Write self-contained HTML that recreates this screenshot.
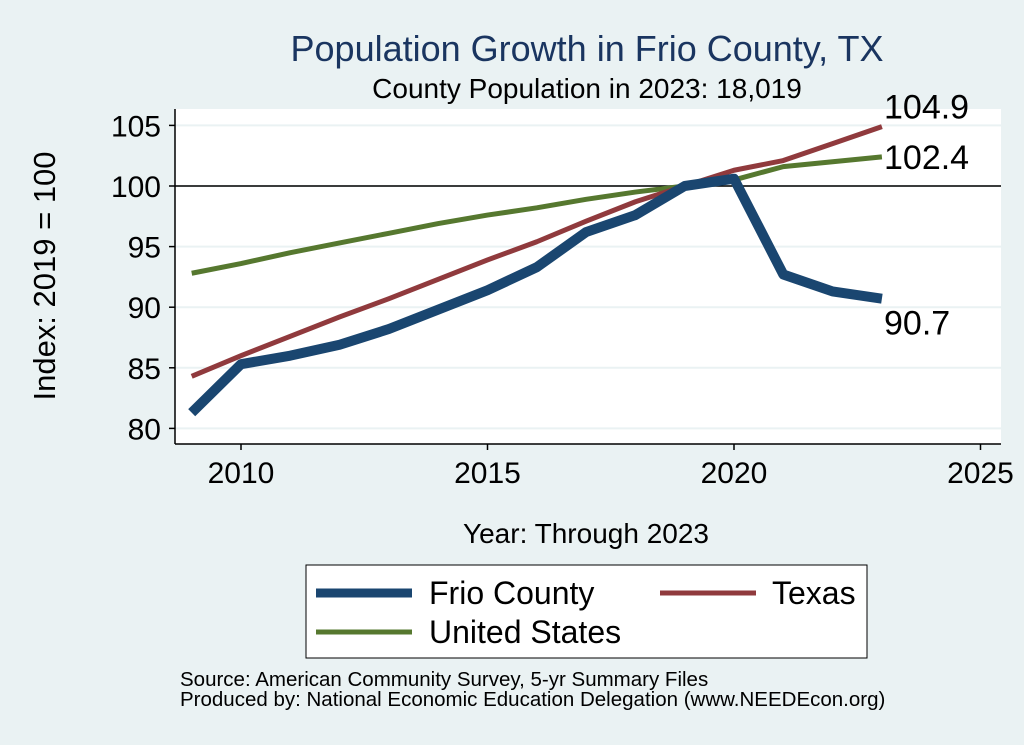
<!DOCTYPE html>
<html><head><meta charset="utf-8"><style>
body{margin:0;background:#eaf2f3;}
svg{display:block;font-family:"Liberation Sans",Arial,sans-serif;}
</style></head><body>
<svg id="c" width="1024" height="745">
<rect x="0" y="0" width="1024" height="745" fill="#eaf2f3"/>
<rect x="175" y="109" width="826" height="335" fill="#fff"/>
<text x="587" y="61" text-anchor="middle" font-size="36" fill="#1a3560">Population Growth in Frio County, TX</text>
<text x="587" y="98" text-anchor="middle" font-size="28" fill="#000">County Population in 2023: 18,019</text>
<g id="grid"></g><g id="axes"></g><g id="lines"></g>
<text x="55" y="276" text-anchor="middle" font-size="31" transform="rotate(-90 55 276)">Index: 2019 = 100</text>
<text x="586" y="543" text-anchor="middle" font-size="28">Year: Through 2023</text>
<g>
<rect x="306" y="565" width="561" height="93" fill="#fff" stroke="#000" stroke-width="1"/>
<line x1="316" y1="593" x2="412" y2="593" stroke="#1a4670" stroke-width="9"/>
<text x="429" y="604" font-size="32">Frio  County</text>
<line x1="660" y1="593" x2="756" y2="593" stroke="#903a3d" stroke-width="5"/>
<text x="772" y="604" font-size="32">Texas</text>
<line x1="316" y1="632" x2="412" y2="632" stroke="#56782f" stroke-width="5"/>
<text x="429" y="643" font-size="32">United States</text>
</g>
<text x="180" y="686" font-size="20.5">Source: American Community Survey, 5-yr Summary Files</text>
<text x="180" y="706" font-size="20.5">Produced by: National Economic Education Delegation (www.NEEDEcon.org)</text>
</svg>
<script>
const years=[2009,2010,2011,2012,2013,2014,2015,2016,2017,2018,2019,2020,2021,2022,2023];
const frio=[81.3,85.3,86.0,86.9,88.2,89.8,91.4,93.3,96.2,97.6,100,100.6,92.7,91.3,90.7];
const texas=[84.3,86.0,87.6,89.2,90.7,92.3,93.9,95.4,97.1,98.7,100,101.3,102.1,103.5,104.9];
const us=[92.8,93.6,94.5,95.3,96.1,96.9,97.6,98.2,98.9,99.5,100,100.5,101.6,102.0,102.4];
const yTicks=[80,85,90,95,100,105];
const xTicks=[2010,2015,2020,2025];
const NS='http://www.w3.org/2000/svg';
function X(v){return 241+(v-2010)*49.3;}
function Y(v){return 186-(v-100)*12.12;}
function mk(t,a,p){const e=document.createElementNS(NS,t);for(const k in a)e.setAttribute(k,a[k]);p.appendChild(e);return e;}
const grid=document.getElementById('grid'),axes=document.getElementById('axes'),lines=document.getElementById('lines');
yTicks.forEach(v=>{
 const g=mk('line',{x1:175,x2:1001,y1:Y(v),y2:Y(v),stroke:'#eaf2f3','stroke-width':2},grid);
 
 
 const t=mk('line',{x1:169,x2:175,y1:Y(v),y2:Y(v),stroke:'#000','stroke-width':1.5},axes);
 
 
 const l=mk('text',{x:161,y:Y(v)+11,'text-anchor':'end','font-size':30},axes);l.textContent=v;
 
 
});
const ref=mk('line',{x1:175,x2:1001,y1:Y(100),y2:Y(100),stroke:'#000','stroke-width':1.5},grid);


const ya=mk('line',{x1:175,x2:175,y1:109,y2:444,stroke:'#000','stroke-width':1.5},axes);


const xa=mk('line',{x1:175,x2:1001,y1:444,y2:444,stroke:'#000','stroke-width':1.5},axes);


xTicks.forEach(v=>{
 const t=mk('line',{x1:X(v),x2:X(v),y1:444,y2:450,stroke:'#000','stroke-width':1.5},axes);
 
 
 const l=mk('text',{x:X(v),y:483,'text-anchor':'middle','font-size':30},axes);l.textContent=v;
 
 
});
function series(vals,col,w,name){
 const p=mk('polyline',{points:vals.map((v,i)=>X(years[i])+','+Y(v)).join(' '),fill:'none',stroke:col,'stroke-width':w,'stroke-linejoin':'round'},lines);
 
 
}
series(us,'#56782f',5,'line-united-states');
series(texas,'#903a3d',5,'line-texas');
series(frio,'#1a4670',10,'line-frio-county');
const n=years.length-1;
[[texas[n],Y(texas[n])-8,'label-texas-end'],[us[n],Y(us[n])+12,'label-us-end'],[frio[n],Y(frio[n])+36,'label-frio-end']].forEach(a=>{
 const l=mk('text',{x:884,y:a[1],'font-size':34},lines);l.textContent=a[0].toFixed(1);
 
 
});
</script>
</body></html>
